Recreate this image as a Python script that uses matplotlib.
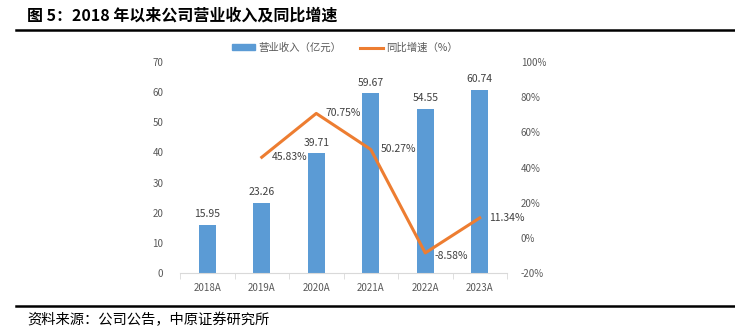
import matplotlib
matplotlib.use("Agg")
import matplotlib.pyplot as plt
from matplotlib.lines import Line2D
from matplotlib.patches import Patch

plt.rcParams['font.family'] = ['Noto Sans CJK SC', 'DejaVu Sans']

categories = ["2018A", "2019A", "2020A", "2021A", "2022A", "2023A"]
revenue = [15.95, 23.26, 39.71, 59.67, 54.55, 60.74]
growth_years = ["2019A", "2020A", "2021A", "2022A", "2023A"]
growth = [45.83, 70.75, 50.27, -8.58, 11.34]
left_ticks = [0, 10, 20, 30, 40, 50, 60, 70]
right_ticks = [-20, 0, 20, 40, 60, 80, 100]

title = "图 5：2018 年以来公司营业收入及同比增速"
source = "资料来源：公司公告，中原证券研究所"

BLUE = "#5B9BD5"
ORANGE = "#ED7D31"
GRAY = "#595959"

fig = plt.figure(figsize=(7.35, 3.3), dpi=100)
ax = fig.add_axes([180/735, 1-273/330, 327/735, 211/330])
ax2 = ax.twinx()

x = list(range(len(categories)))
ax.bar(x, revenue, width=0.31, color=BLUE, zorder=2)
for xi, v in zip(x, revenue):
    ax.annotate(f"{v:.2f}", (xi, v), xytext=(0, 4), textcoords="offset points",
                ha="center", va="bottom", fontsize=7.5, color="#404040")

gx = [categories.index(c) for c in growth_years]
ax2.plot(gx, growth, color=ORANGE, lw=2.2, zorder=3)
offsets = [(7, 0), (7, 0), (7, 0), (7, -2), (7, 0)]
for xi, v, off in zip(gx, growth, offsets):
    ax2.annotate(f"{v:.2f}%", (xi, v), xytext=off, textcoords="offset points",
                 ha="left", va="center", fontsize=7.5, color="#404040")

ax.set_xlim(-0.5, len(categories) - 0.5)
ax.set_ylim(0, 70)
ax2.set_ylim(-20, 100)
ax.set_yticks(left_ticks)
ax.set_yticklabels([str(t) for t in left_ticks])
ax2.set_yticks(right_ticks)
ax2.set_yticklabels([f"{t}%" for t in right_ticks])
ax.set_xticks(x)
ax.set_xticklabels(categories)
ax.set_xticks([i - 0.5 for i in range(len(categories) + 1)], minor=True)

for a in (ax, ax2):
    for s in ("top", "left", "right", "bottom"):
        a.spines[s].set_visible(False)
ax.spines["bottom"].set_visible(True)
ax.spines["bottom"].set_color("#D9D9D9")
ax.tick_params(axis="x", which="major", length=0, pad=7, labelsize=7, labelcolor=GRAY)
ax.tick_params(axis="x", which="minor", length=4, color="#D9D9D9", direction="out")
ax.tick_params(axis="y", length=0, pad=12, labelsize=7, labelcolor=GRAY)
ax2.tick_params(axis="y", length=0, pad=10, labelsize=7, labelcolor=GRAY)

handles = [Patch(color=BLUE), Line2D([0], [0], color=ORANGE, lw=2.2)]
labels = ["营业收入（亿元）", "同比增速（%）"]
fig.legend(handles, labels, loc="center", bbox_to_anchor=(345/735, 1-48/330), ncol=2,
           frameon=False, fontsize=7.5, labelcolor=GRAY, handlelength=2.2,
           handleheight=0.5, handletextpad=0.3, columnspacing=1.8)

fig.text(27/735, 1-16/330, title, fontsize=11.5, fontweight="bold", ha="left", va="center")
fig.add_artist(Line2D([16/735, 1], [1-30/330, 1-30/330], color="black", lw=1.8))
fig.add_artist(Line2D([16/735, 1], [1-306/330, 1-306/330], color="black", lw=1.8))
fig.text(27/735, 1-320/330, source, fontsize=10.3, ha="left", va="center")

fig.savefig("out.png", dpi=100)
